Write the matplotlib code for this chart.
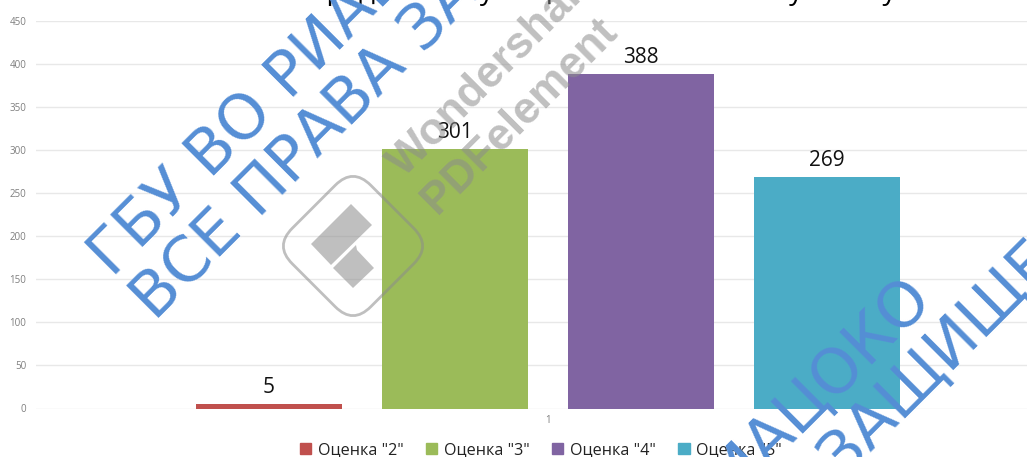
import matplotlib
matplotlib.use("Agg")
import matplotlib.pyplot as plt
from matplotlib.patches import FancyBboxPatch, Polygon, Patch
from matplotlib.transforms import Affine2D

series_names = ['Оценка "2"', 'Оценка "3"', 'Оценка "4"', 'Оценка "5"']
series_values = [5, 301, 388, 269]
series_colors = ["#C0504D", "#9BBB59", "#8064A2", "#4BACC6"]
category_labels = ["1"]
y_ticks = [0, 50, 100, 150, 200, 250, 300, 350, 400, 450]
title_text = "Распределение учащихся по итоговому классу"

W, H = 1027, 457
plt.rcParams["font.family"] = ["Open Sans", "DejaVu Sans"]
fig = plt.figure(figsize=(W / 100, H / 100), dpi=100, facecolor="white")
ax = fig.add_axes([36 / W, (H - 408.5) / H, 1024 / W, 387.5 / H])
ax.set_xlim(0.5, 1.5)
ax.set_ylim(0, 450)

step, width = 0.1816, 0.143
for i, (name, val, col) in enumerate(zip(series_names, series_values, series_colors)):
    xc = 1 + (i - 1.5) * step
    ax.bar(xc, val, width=width, color=col, zorder=3)
    ax.annotate(str(val), (xc, val), xytext=(0, 6), textcoords="offset pixels",
                ha="center", va="bottom", fontsize=15, color="#111111", zorder=4)

ax.set_yticks(y_ticks)
ax.set_xticks([1])
ax.set_xticklabels(category_labels)
ax.tick_params(axis="both", length=0, labelsize=7, labelcolor="#7f7f7f")
ax.tick_params(axis="y", pad=7)
ax.tick_params(axis="x", pad=5)
ax.grid(axis="y", color="#e8e8e8", lw=1.0, zorder=0)
for s in ax.spines.values():
    s.set_visible(False)

fig.legend(handles=[Patch(color=c, label=n) for c, n in zip(series_colors, series_names)],
           loc="center", bbox_to_anchor=(541 / W, (H - 450) / H), ncol=4, frameon=False,
           fontsize=11.6, handlelength=0.7, handleheight=0.7, handletextpad=0.4,
           columnspacing=1.4, labelcolor="#222222")

px = Affine2D().scale(1, -1).translate(0, H)   # reference pixel coordinates

fig.text(580, -1, title_text, transform=px, ha="center", va="baseline",
         fontsize=20, color="black", zorder=4)

blue = "#558ED5"
tile = (420, 427)
for ox, oy in [(0, 0), tile]:
    for (x0, y0), s in [((112, 278), "ГБУ ВО РИАЦОКО"), ((155, 322), "ВСЕ ПРАВА ЗАЩИЩЕНЫ")]:
        fig.text(x0 + ox, y0 + oy, s, transform=px, rotation=45, rotation_mode="anchor",
                 ha="left", va="baseline", fontsize=45, color=blue, zorder=10,
                 family="DejaVu Sans")

grey = "#8c8c8c"
for (x0, y0), s in [((404, 178), "Wondershare"), ((437, 215), "PDFelement")]:
    fig.text(x0, y0, s, transform=px, rotation=45, rotation_mode="anchor", ha="left",
             va="baseline", fontsize=32, fontweight="bold", family="Liberation Sans",
             color=grey, alpha=0.55, zorder=9)

side, rad = 111, 25
logo = FancyBboxPatch((-side / 2 + rad, -side / 2 + rad), side - 2 * rad, side - 2 * rad,
                      boxstyle=f"round,pad={rad},rounding_size={rad}", fill=False,
                      edgecolor=grey, alpha=0.55, lw=2.0,
                      transform=Affine2D().rotate_deg(45).translate(353, 246) + px, zorder=9)
fig.add_artist(logo)
for pts in ([(351, 204), (372, 225), (331, 265), (311, 244)],
            [(356, 245), (357, 250), (374, 268), (353, 288), (333, 268)]):
    fig.add_artist(Polygon(pts, closed=True, facecolor=grey, edgecolor="none", alpha=0.55,
                           transform=px, zorder=9))

fig.savefig("out.png", dpi=100)
